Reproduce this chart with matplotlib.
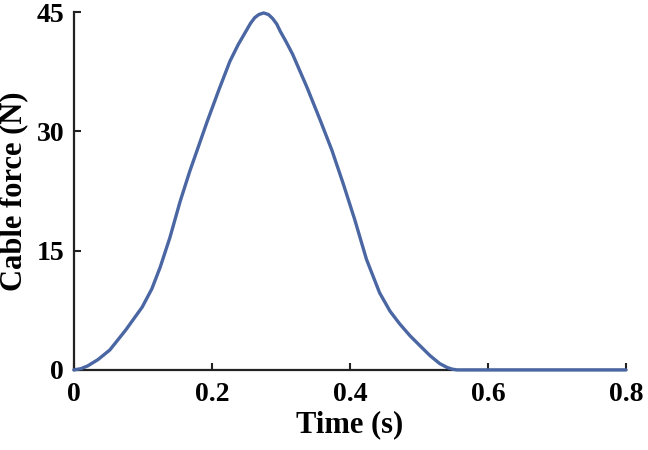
import matplotlib
matplotlib.use("Agg")
import matplotlib.pyplot as plt

# values
time_s = [0.0, 0.01, 0.02, 0.035, 0.052, 0.075, 0.099, 0.113, 0.125, 0.139, 0.154,
          0.168, 0.193, 0.21, 0.226, 0.238, 0.248, 0.256, 0.262, 0.268, 0.275,
          0.282, 0.288, 0.294, 0.299, 0.308, 0.317, 0.338, 0.357, 0.374, 0.390,
          0.407, 0.424, 0.443, 0.458, 0.472, 0.487, 0.502, 0.516, 0.530, 0.541,
          0.548, 0.555, 0.6, 0.7, 0.8]
force_n = [0.0, 0.15, 0.5, 1.3, 2.5, 5.0, 7.9, 10.2, 12.9, 16.6, 21.2,
           25.0, 31.2, 35.2, 38.8, 40.9, 42.4, 43.6, 44.3, 44.7, 44.9,
           44.7, 44.2, 43.5, 42.6, 41.2, 39.7, 35.5, 31.4, 27.6, 23.5,
           18.9, 13.9, 9.7, 7.4, 5.8, 4.3, 3.0, 1.8, 0.8, 0.3,
           0.1, 0.0, 0.0, 0.0, 0.0]
x_ticks = [0, 0.2, 0.4, 0.6, 0.8]
x_labels = ["0", "0.2", "0.4", "0.6", "0.8"]
y_ticks = [0, 15, 30, 45]

plt.rcParams["font.family"] = ["Liberation Serif", "DejaVu Serif"]
plt.rcParams["font.weight"] = "bold"

fig = plt.figure(figsize=(6.48, 4.5), dpi=100)
ax = fig.add_axes([0.114, 0.178, 0.852, 0.795])

ax.plot(time_s, force_n, color="#4a66a3", linewidth=2.4, solid_capstyle="round",
        solid_joinstyle="round", clip_on=False, zorder=3)

ax.set_xlim(0, 0.8)
ax.set_ylim(0, 45)
ax.set_xticks(x_ticks)
ax.set_xticklabels(x_labels)
ax.set_yticks(y_ticks)

for s in ["top", "right"]:
    ax.spines[s].set_visible(False)
for s in ["left", "bottom"]:
    ax.spines[s].set_linewidth(1.6)
    ax.spines[s].set_color("#222222")

ax.tick_params(direction="in", length=5, width=1.5, labelsize=20, color="#222222")
ax.tick_params(axis="x", pad=9)
ax.tick_params(axis="y", pad=7)
ax.set_xlabel("Time (s)", fontsize=22, fontweight="bold", labelpad=2)
ax.set_ylabel("Cable force (N)", fontsize=22, fontweight="bold", labelpad=6)

fig.savefig("out.png", dpi=100)
